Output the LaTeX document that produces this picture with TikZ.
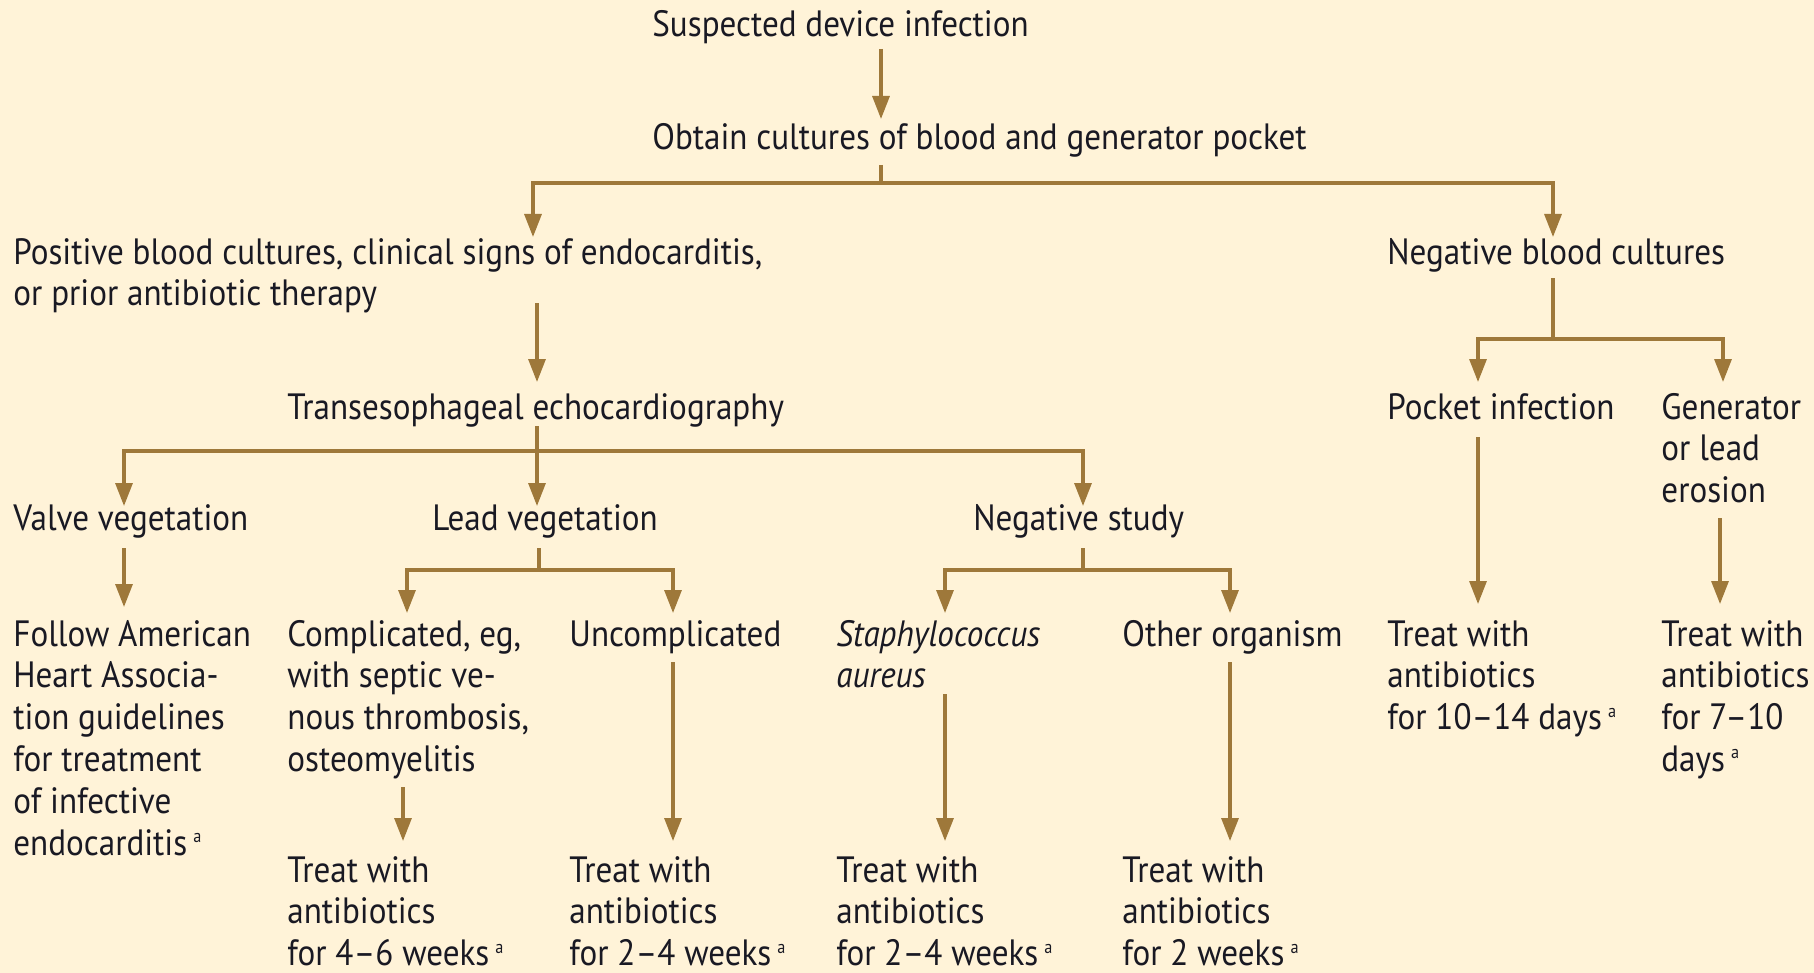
\documentclass[tikz,border=0pt]{standalone}
\usepackage{fontspec}
\setmainfont{PT Sans}[FakeStretch=0.905]
\usetikzlibrary{arrows.meta}
\definecolor{bg}{RGB}{255,243,216}
\definecolor{brn}{RGB}{158,120,58}
\definecolor{ink}{RGB}{25,25,35}
\newcommand{\supa}{\,\textsuperscript{\small a}}
\newcommand{\ml}[1]{\vtop{\baselineskip=20.9pt\lineskiplimit=-20pt\halign{##\hfil\cr#1\crcr}}}
\begin{document}
\begin{tikzpicture}[x=0.5pt,y=-0.5pt,
  txt/.style={anchor=base west,inner sep=0pt,text=ink,font=\fontsize{18.3pt}{20.9pt}\selectfont},
  ln/.style={draw=brn,line width=1.6pt},
  arr/.style={ln,-{Triangle[length=11.5pt,width=8.5pt]}}]
\fill[bg] (0,0) rectangle (1814,973);
\useasboundingbox (0,0) rectangle (1814,973);
% nodes
\node[txt] (susp) at (652,37) {Suspected device infection};
\node[txt] (obt) at (652,150) {Obtain cultures of blood and generator pocket};
\node[txt] (pos) at (13,264) {\ml{Positive blood cultures, clinical signs of endocarditis,\cr or prior antibiotic therapy}};
\node[txt] (negb) at (1387,264) {Negative blood cultures};
\node[txt] (tee) at (287,419) {Transesophageal echocardiography};
\node[txt] (pock) at (1387,419) {Pocket infection};
\node[txt] (gen) at (1661,419) {\ml{Generator\cr or lead\cr erosion}};
\node[txt] (valve) at (13,530) {Valve vegetation};
\node[txt] (lead) at (432,530) {Lead vegetation};
\node[txt] (negs) at (973,530) {Negative study};
\node[txt] (aha) at (13,646) {\ml{Follow American\cr Heart Associa-\cr tion guidelines\cr for treatment\cr of infective\cr endocarditis\supa}};
\node[txt] (comp) at (287,646) {\ml{Complicated, eg,\cr with septic ve-\cr nous thrombosis,\cr osteomyelitis}};
\node[txt] (unc) at (569,646) {Uncomplicated};
\node[txt] (staph) at (836,646) {\ml{\itshape Staphylococcus\cr \itshape aureus}};
\node[txt] (oth) at (1122,646) {Other organism};
\node[txt] (tpock) at (1387,646) {\ml{Treat with\cr antibiotics\cr for 10--14 days\supa}};
\node[txt] (tgen) at (1661,646) {\ml{Treat with\cr antibiotics\cr for 7--10\cr days\supa}};
\node[txt] (tcomp) at (287,882) {\ml{Treat with\cr antibiotics\cr for 4--6 weeks\supa}};
\node[txt] (tunc) at (569,882) {\ml{Treat with\cr antibiotics\cr for 2--4 weeks\supa}};
\node[txt] (tstaph) at (836,882) {\ml{Treat with\cr antibiotics\cr for 2--4 weeks\supa}};
\node[txt] (toth) at (1122,882) {\ml{Treat with\cr antibiotics\cr for 2 weeks\supa}};
% connector coordinates
\coordinate (j1) at (881,183);
\coordinate (j2) at (537,451);
\coordinate (j3) at (1553,339);
\coordinate (j4) at (539,570);
\coordinate (j5) at (1083,570);
% connectors
\draw[arr] (881,49) -- (881,119);
\draw[ln] (881,165) -- (j1);
\draw[arr] (j1) -| (533,237);
\draw[arr] (j1) -| (1553,237);
\draw[arr] (537,303) -- (537,382);
\draw[ln] (537,426) -- (j2);
\draw[arr] (j2) -| (124,506);
\draw[arr] (j2) -- (537,506);
\draw[arr] (j2) -| (1083,506);
\draw[ln] (1553,278) -- (j3);
\draw[arr] (j3) -| (1478,382);
\draw[arr] (j3) -| (1723,382);
\draw[arr] (124,548) -- (124,607);
\draw[ln] (539,548) -- (j4);
\draw[arr] (j4) -| (407,613);
\draw[arr] (j4) -| (673,613);
\draw[ln] (1083,548) -- (j5);
\draw[arr] (j5) -| (945,613);
\draw[arr] (j5) -| (1230,613);
\draw[arr] (1478,437) -- (1478,604);
\draw[arr] (1720,518) -- (1720,604);
\draw[arr] (403,787) -- (403,841);
\draw[arr] (673,662) -- (673,841);
\draw[arr] (945,694) -- (945,841);
\draw[arr] (1230,662) -- (1230,841);
\end{tikzpicture}
\end{document}
